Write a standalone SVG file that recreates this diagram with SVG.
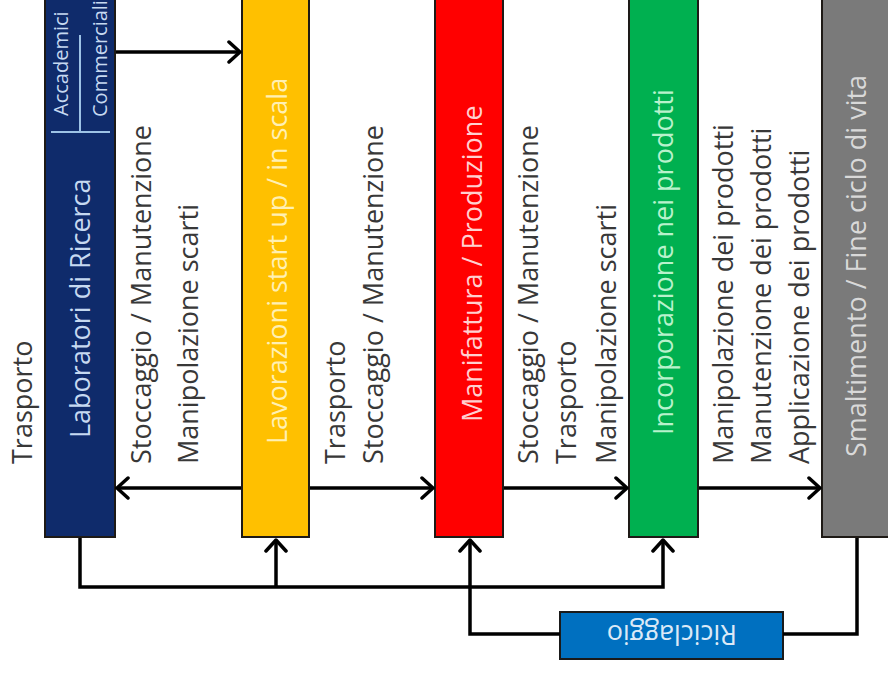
<svg xmlns="http://www.w3.org/2000/svg" width="888" height="679" viewBox="0 0 888 679">
<style>
  .bar { stroke: #1e1a16; stroke-width: 2; }
  .title { font-family: "Open Sans", "Liberation Sans", sans-serif; font-size: 27px; }
  .lbl { font-family: "Open Sans", "Liberation Sans", sans-serif; font-size: 27px; fill: #383838; }
  .sub { font-family: "Open Sans", "Liberation Sans", sans-serif; font-size: 20px; fill: #c6d9f1; }
  .conn { fill: none; stroke: #000; stroke-width: 3.5; }
</style>
<defs>
  <marker id="ah" viewBox="-14 -12 16 24" markerWidth="16" markerHeight="24" refX="0" refY="0" orient="auto" markerUnits="userSpaceOnUse">
    <path d="M-11,-10 L0,0 L-11,10" fill="none" stroke="#000" stroke-width="3.5" stroke-linecap="round" stroke-linejoin="round"/>
  </marker>
</defs>
<rect width="888" height="679" fill="#ffffff"/>

<g id="labels">
  <text class="lbl" transform="translate(32,464) rotate(-90)">Trasporto</text>
  <text class="lbl" transform="translate(151,464) rotate(-90)">Stoccaggio / Manutenzione</text>
  <text class="lbl" transform="translate(198,464) rotate(-90)">Manipolazione scarti</text>
  <text class="lbl" transform="translate(345,464) rotate(-90)">Trasporto</text>
  <text class="lbl" transform="translate(383,464) rotate(-90)">Stoccaggio / Manutenzione</text>
  <text class="lbl" transform="translate(538,464) rotate(-90)">Stoccaggio / Manutenzione</text>
  <text class="lbl" transform="translate(576,464) rotate(-90)">Trasporto</text>
  <text class="lbl" transform="translate(616,464) rotate(-90)">Manipolazione scarti</text>
  <text class="lbl" transform="translate(733,464) rotate(-90)">Manipolazione dei prodotti</text>
  <text class="lbl" transform="translate(771,464) rotate(-90)">Manutenzione dei prodotti</text>
  <text class="lbl" transform="translate(809,464) rotate(-90)">Applicazione dei prodotti</text>
</g>

<g id="laboratori">
  <rect class="bar" x="45" y="-5" width="70" height="542" fill="#0f2b6b"/>
  <line x1="51" y1="132" x2="110" y2="132" stroke="#9dc3e6" stroke-width="2"/>
  <line x1="80" y1="35" x2="80" y2="132" stroke="#9dc3e6" stroke-width="2"/>
  <text class="sub" transform="translate(68,116) rotate(-90)">Accademici</text>
  <text class="sub" font-size="18.5" transform="translate(107,117) rotate(-90)">Commerciali</text>
  <text class="title" fill="#c6d9f1" transform="translate(90,438) rotate(-90)">Laboratori di Ricerca</text>
</g>

<g id="lavorazioni">
  <rect class="bar" x="242" y="-5" width="67" height="542" fill="#ffc000"/>
  <text class="title" fill="#fff0b3" transform="translate(287,444) rotate(-90)">Lavorazioni start up / in scala</text>
</g>

<g id="manifattura">
  <rect class="bar" x="435" y="-5" width="68" height="542" fill="#ff0000"/>
  <text class="title" fill="#ffd0d0" transform="translate(482,422) rotate(-90)">Manifattura / Produzione</text>
</g>

<g id="incorporazione">
  <rect class="bar" x="629" y="-5" width="69" height="542" fill="#00b050"/>
  <text class="title" fill="#b8f2cc" transform="translate(673,435) rotate(-90)">Incorporazione nei prodotti</text>
</g>

<g id="smaltimento">
  <rect class="bar" x="822" y="-5" width="70" height="542" fill="#7a7a7a"/>
  <text class="title" fill="#d9d9d9" transform="translate(866,457) rotate(-90)">Smaltimento / Fine ciclo di vita</text>
</g>

<g id="riciclaggio">
  <rect x="560" y="612" width="223" height="47" fill="#0070c0" stroke="#1a1a1a" stroke-width="2"/>
  <text class="title" fill="#dbe9f7" font-size="26" transform="translate(737,625) rotate(180)">Riciclaggio</text>
</g>

<g id="connectors">
  <line class="conn" x1="116" y1="52" x2="240" y2="52" marker-end="url(#ah)"/>
  <line class="conn" x1="241" y1="488" x2="117" y2="488" marker-end="url(#ah)"/>
  <line class="conn" x1="310" y1="488" x2="433" y2="488" marker-end="url(#ah)"/>
  <line class="conn" x1="504" y1="488" x2="627" y2="488" marker-end="url(#ah)"/>
  <line class="conn" x1="699" y1="488" x2="820" y2="488" marker-end="url(#ah)"/>
  <path class="conn" d="M80,538 V587 H663 V540" marker-end="url(#ah)"/>
  <path class="conn" d="M276,587 V540" marker-end="url(#ah)"/>
  <path class="conn" d="M857,538 V634 H783"/>
  <path class="conn" d="M560,634 H470 V540" marker-end="url(#ah)"/>
</g>
</svg>
